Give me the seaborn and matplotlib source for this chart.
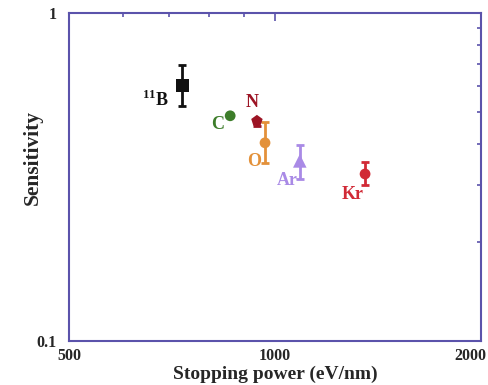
import matplotlib
matplotlib.use("Agg")
import matplotlib.pyplot as plt
import matplotlib.ticker as mticker
import matplotlib.transforms as mtransforms
import seaborn as sns
import pandas as pd

ions = ["11B", "C", "N", "O", "Ar", "Kr"]
labels = ["$^{\\mathbf{11}}$B", "C", "N", "O", "Ar", "Kr"]
stopping_power = [732, 860, 941, 967, 1087, 1354]
sensitivity = [0.600, 0.486, 0.469, 0.402, 0.354, 0.323]
err_low = [0.080, 0.0, 0.018, 0.052, 0.042, 0.024]
err_high = [0.096, 0.0, 0.0, 0.063, 0.042, 0.028]
colors = ["#111111", "#3d7d2a", "#9c1424", "#e3913a", "#a98ae6", "#d12a36"]
markers = ["s", "o", "p", "o", "^", "o"]
sizes = [85, 60, 75, 60, 95, 60]
# label offsets in pixels (dx right, dy down) and alignment
label_offsets = [(-14, 14), (-6, 9), (-5, -18), (-11, 19), (-12, 20), (-12, 21)]
label_ha = ["right", "right", "center", "center", "center", "center"]

df = pd.DataFrame({"ion": ions, "sp": stopping_power, "sens": sensitivity})

sns.set_style("white")
plt.rcParams["font.family"] = ["Liberation Serif", "DejaVu Serif"]
plt.rcParams["font.weight"] = "bold"
plt.rcParams["mathtext.fontset"] = "custom"
plt.rcParams["mathtext.bf"] = "Liberation Serif:bold"
plt.rcParams["mathtext.rm"] = "Liberation Serif:bold"

fig = plt.figure(figsize=(4.88, 3.85), dpi=100)
ax = fig.add_axes([69/488, 1 - 341/385, 412/488, 328/385])

axis_color = "#5b53ab"

for i in range(len(ions)):
    if err_low[i] > 0 or err_high[i] > 0:
        ax.errorbar(stopping_power[i], sensitivity[i],
                    yerr=[[err_low[i]], [err_high[i]]],
                    fmt="none", ecolor=colors[i], elinewidth=2,
                    capsize=3, capthick=2, zorder=2)

sns.scatterplot(data=df, x="sp", y="sens", hue="ion", style="ion",
                palette=dict(zip(ions, colors)),
                markers=dict(zip(ions, markers)),
                size="ion", sizes=dict(zip(ions, sizes)),
                edgecolor="none", legend=False, ax=ax, zorder=3)

px2pt = 72 / 100
for i in range(len(ions)):
    dx, dy = label_offsets[i]
    ax.annotate(labels[i], (stopping_power[i], sensitivity[i]),
                xytext=(dx * px2pt, -dy * px2pt),
                textcoords="offset points", ha=label_ha[i],
                va="center", color=colors[i], fontsize=13, fontweight="bold")

ax.set_xscale("log")
ax.set_yscale("log")
ax.set_xlim(500, 2000)
ax.set_ylim(0.1, 1)

ax.xaxis.set_major_locator(mticker.FixedLocator([500, 1000, 2000]))
ax.xaxis.set_major_formatter(mticker.FixedFormatter(["500", "1000", "2000"]))
ax.xaxis.set_minor_locator(mticker.FixedLocator([600, 700, 800, 900]))
ax.xaxis.set_minor_formatter(mticker.NullFormatter())
ax.yaxis.set_major_locator(mticker.FixedLocator([0.1, 1]))
ax.yaxis.set_major_formatter(mticker.FixedFormatter(["0.1", "1"]))
ax.yaxis.set_minor_locator(mticker.FixedLocator([0.2, 0.3, 0.4, 0.5, 0.6, 0.7, 0.8, 0.9]))
ax.yaxis.set_minor_formatter(mticker.NullFormatter())

ax.tick_params(which="both", direction="in", top=True, right=True,
               color=axis_color, labelsize=11.5)
ax.tick_params(axis="x", which="major", pad=5)
ax.tick_params(axis="y", which="major", pad=9)
ax.tick_params(which="major", length=6, width=1.2)
ax.tick_params(which="minor", length=3, width=1.2)
for lab in ax.get_xticklabels() + ax.get_yticklabels():
    lab.set_fontweight("bold")

for s in ax.spines.values():
    s.set_color(axis_color)
    s.set_linewidth(1.5)
    s.set_visible(True)

ax.set_xlabel("Stopping power (eV/nm)", fontsize=14, fontweight="bold")
ax.set_ylabel("Sensitivity", fontsize=15.5, fontweight="bold")
ax.xaxis.set_label_coords(0.501, -0.076)
ax.yaxis.set_label_coords(-0.064, 0.558)

fig.canvas.draw()
lab = ax.get_xticklabels()[-1]
lab.set_transform(lab.get_transform() + mtransforms.ScaledTranslation(-11 / 100, 0, fig.dpi_scale_trans))

fig.savefig("out.png", dpi=100)
